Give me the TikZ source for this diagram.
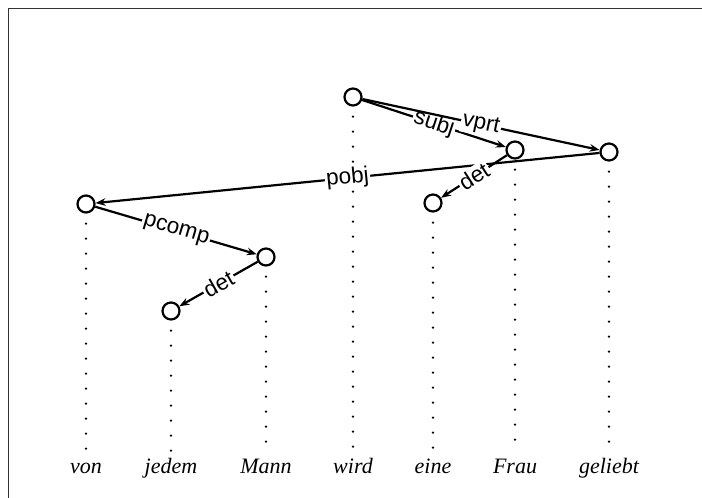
\documentclass[tikz,border=0pt]{standalone}
\usepackage{fontspec}
\setmainfont{Liberation Serif}
\newfontfamily\lsans{Liberation Sans}
\usetikzlibrary{arrows.meta}
\begin{document}
\begin{tikzpicture}[x=1pt,y=-1pt,
  tok/.style={circle, draw, line width=2.2pt, minimum size=17pt, inner sep=0pt},
  word/.style={anchor=base, font=\fontsize{22}{25}\selectfont\itshape, inner sep=1pt},
  dep/.style={line width=2.2pt, -{Stealth[length=10pt,width=7.5pt]}},
  lab/.style={midway, sloped, fill=white, inner sep=1.5pt, font=\fontsize{22.5}{25}\selectfont\lsans},
  dotline/.style={line width=2.6pt, line cap=round, dash pattern=on 0pt off 15pt}]
\useasboundingbox (0,0) rectangle (702,498);
\draw[line width=1.8pt, draw=black!80] (702,8.5) -- (8.5,8.5) -- (8.5,498);

\node[tok] (von) at (86,204) {};
\node[tok] (jedem) at (171,311) {};
\node[tok] (mann) at (266,257) {};
\node[tok] (wird) at (353,97) {};
\node[tok] (eine) at (433,203) {};
\node[tok] (frau) at (515,150) {};
\node[tok] (geliebt) at (609,152) {};

\node[word] (wvon) at (86,473) {von};
\node[word] (wjedem) at (171,473) {jedem};
\node[word] (wmann) at (266,473) {Mann};
\node[word] (wwird) at (353,473) {wird};
\node[word] (weine) at (433,473) {eine};
\node[word] (wfrau) at (515,473) {Frau};
\node[word] (wgeliebt) at (609,473) {geliebt};

\foreach \n/\w in {von/wvon, jedem/wjedem, mann/wmann, wird/wwird, eine/weine, frau/wfrau, geliebt/wgeliebt}
  \draw[dotline] ([yshift=-10pt]\n.south) -- ([yshift=4pt]\w.north);

\draw[dep] (wird) -- (frau) node[lab] {subj};
\draw[dep] (wird) -- (geliebt) node[lab] {vprt};
\draw[dep] (geliebt) -- (von) node[lab] {pobj};
\draw[dep] (frau) -- (eine) node[lab] {det};
\draw[dep] (von) -- (mann) node[lab] {pcomp};
\draw[dep] (mann) -- (jedem) node[lab] {det};
\end{tikzpicture}
\end{document}
